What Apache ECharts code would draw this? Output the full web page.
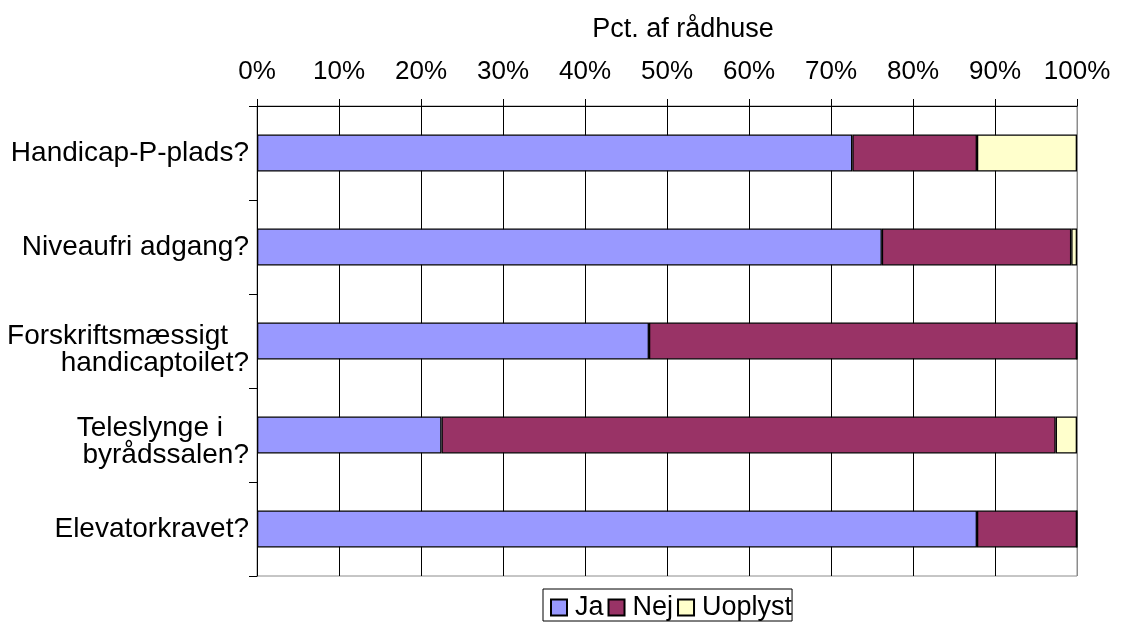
<!DOCTYPE html>
<html>
<head>
<meta charset="utf-8">
<script src="https://cdn.jsdelivr.net/npm/echarts@6/dist/echarts.min.js"></script>
<style>html,body{margin:0;padding:0;background:#fff;}#c{width:1121px;height:625px;}</style>
</head>
<body>
<div id="c"></div>
<script>
const categories = ['Handicap-P-plads?', 'Niveaufri adgang?', 'Forskriftsmæssigt handicaptoilet?', 'Teleslynge i byrådssalen?', 'Elevatorkravet?'];
const ja = [72.6, 76.2, 47.8, 22.5, 87.8];
const nej = [15.2, 23.1, 52.2, 74.9, 12.2];
const uoplyst = [12.2, 0.7, 0, 2.6, 0];
const xTicks = [0, 10, 20, 30, 40, 50, 60, 70, 80, 90, 100];

const labelLines = {
  'Forskriftsmæssigt handicaptoilet?': '{e| }\n{a|Forskriftsmæssigt}\n{b|handicaptoilet?}',
  'Teleslynge i byrådssalen?': '{f| }\n{c|Teleslynge i}\n{b|byrådssalen?}'
};

const font = 'Liberation Sans, Arial, sans-serif';
const chart = echarts.init(document.getElementById('c'));
const mk = (name, data, color) => ({
  name, type: 'bar', stack: 'tot', data, barWidth: 37,
  itemStyle: { color, borderColor: '#000', borderWidth: 1.3 },
  emphasis: { disabled: true }
});
const gridColors = xTicks.map(v => v === 100 ? '#8c8c8c' : '#000');
chart.setOption({
  animation: false,
  textStyle: { fontFamily: font },
  grid: { left: 257, right: 44, top: 106, bottom: 49, show: true, borderColor: '#8c8c8c', borderWidth: 1 },
  xAxis: {
    type: 'value', position: 'top', min: 0, max: 100, interval: 10,
    name: 'Pct. af rådhuse', nameLocation: 'middle', nameGap: 63,
    nameTextStyle: { fontSize: 27, color: '#000', fontFamily: font, padding: [0, 0, 0, 32] },
    axisLine: { show: true, lineStyle: { color: '#000', width: 1 } },
    axisTick: { show: true, length: 7, lineStyle: { color: '#000' } },
    axisLabel: { formatter: v => xTicks.includes(v) ? v + '%' : '', fontSize: 26, color: '#000', margin: 21, fontFamily: font },
    splitLine: { show: true, lineStyle: { color: gridColors, width: 1 } }
  },
  yAxis: {
    type: 'category', data: categories, inverse: true,
    axisLine: { show: true, lineStyle: { color: '#000', width: 1 } },
    axisTick: { show: true, length: 8, lineStyle: { color: '#000' } },
    axisLabel: {
      fontSize: 28, color: '#000', margin: 8, fontFamily: font, align: 'right',
      formatter: v => labelLines[v] || v,
      rich: {
        e: { fontSize: 4, lineHeight: 17 },
        f: { fontSize: 4, lineHeight: 13 },
        a: { fontSize: 28, color: '#000', fontFamily: font, lineHeight: 27, padding: [0, 21, 0, 0] },
        c: { fontSize: 28, color: '#000', fontFamily: font, lineHeight: 27, padding: [0, 26, 0, 0] },
        b: { fontSize: 28, color: '#000', fontFamily: font, lineHeight: 27 }
      }
    },
    splitLine: { show: false }
  },
  legend: {
    data: ['Ja', 'Nej', 'Uoplyst'], left: 543, top: 589,
    icon: 'rect', itemWidth: 16, itemHeight: 16, itemGap: 4,
    borderColor: '#000', borderWidth: 1, padding: [5, 0, 0, 7],
    textStyle: { fontSize: 27, color: '#000', fontFamily: font, padding: [0, 0, 0, 3] }
  },
  series: [mk('Ja', ja, '#9999FF'), mk('Nej', nej, '#993366'), mk('Uoplyst', uoplyst, '#FFFFCC')]
});
</script>
</body>
</html>
